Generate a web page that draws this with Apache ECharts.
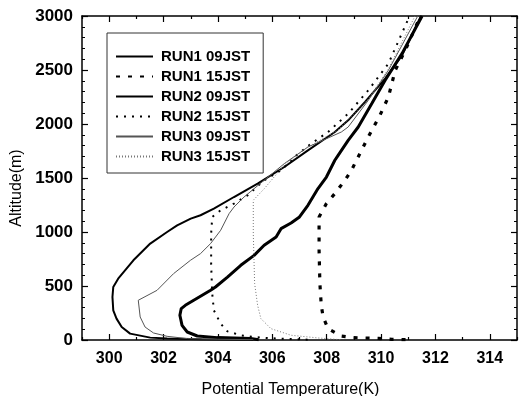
<!DOCTYPE html>
<html>
<head>
<meta charset="utf-8">
<script src="https://cdn.jsdelivr.net/npm/echarts@6/dist/echarts.min.js"></script>
<style>
  html, body { margin: 0; padding: 0; background: #fff; }
  #chart { width: 523px; height: 396px; }
</style>
</head>
<body>
<div id="chart"></div>
<script>
// [potential temperature (K), altitude (m)]
const run1Jst09 = [
  [305.5, 2], [305.2, 13], [303.98, 22], [303.24, 37], [302.87, 74], [302.68, 136],
  [302.6, 229], [302.65, 291], [302.8, 321], [303.11, 368], [303.73, 460], [303.91, 491],
  [304.35, 583], [304.84, 692], [305.33, 784], [305.7, 877], [306.14, 954], [306.32, 1031],
  [306.69, 1083], [307.0, 1139], [307.31, 1247], [307.68, 1402], [307.99, 1509], [308.3, 1664],
  [308.42, 1710], [308.79, 1849], [309.16, 1972], [309.66, 2189], [310.15, 2405], [310.77, 2652],
  [311.51, 3000]
];
const run1Jst15 = [
  [310.9, 3], [310.4, 6], [309.9, 15], [309.47, 18], [308.98, 22], [308.54, 37], [308.05, 105],
  [307.87, 213], [307.8, 321], [307.75, 522], [307.72, 831], [307.72, 1139], [307.99, 1263],
  [308.3, 1356], [308.67, 1479], [308.91, 1571], [309.22, 1726], [309.53, 1880], [309.96, 2081],
  [310.27, 2250], [310.52, 2497], [310.89, 2682], [311.45, 3000]
];
const run2Jst09 = [
  [305.3, 3], [303.4, 8], [302.13, 13], [301.51, 22], [300.77, 59], [300.46, 120], [300.27, 198],
  [300.15, 275], [300.12, 398], [300.15, 491], [300.33, 568], [300.89, 738], [301.51, 893],
  [302.13, 1000], [302.5, 1062], [303.0, 1124], [303.36, 1155], [303.85, 1216], [304.59, 1324],
  [305.46, 1448], [306.44, 1602], [307.31, 1756], [308.3, 1926], [308.79, 2034], [309.41, 2204],
  [310.15, 2420], [310.77, 2636], [311.47, 3000]
];
const run2Jst15 = [
  [307.3, 3], [306.57, 10], [305.83, 18], [305.33, 28], [304.84, 44], [304.35, 80], [304.1, 152],
  [303.85, 275], [303.79, 430], [303.75, 700], [303.75, 985], [303.79, 1139], [304.1, 1201],
  [304.59, 1263], [305.09, 1340], [305.7, 1479], [306.32, 1571], [306.81, 1694], [307.43, 1818],
  [308.05, 1926], [308.79, 2096], [309.53, 2312], [310.27, 2559], [311.05, 3000]
];
const run3Jst09 = [
  [305.3, 3], [304.0, 7], [302.87, 13], [302.13, 34], [301.63, 65], [301.32, 120], [301.14, 213],
  [301.07, 368], [301.76, 460], [302.37, 615], [302.99, 738], [303.36, 800], [303.73, 893],
  [304.1, 1016], [304.41, 1170], [304.59, 1231], [304.96, 1324], [305.7, 1479], [306.44, 1633],
  [307.31, 1787], [308.54, 1926], [308.79, 1972], [309.53, 2219], [310.27, 2497], [311.35, 3000]
];
const run3Jst15 = [
  [308.5, 3], [307.68, 19], [306.69, 44], [305.95, 105], [305.58, 198], [305.46, 321],
  [305.35, 522], [305.3, 985], [305.3, 1294], [305.7, 1400], [306.44, 1620], [307.31, 1787],
  [308.4, 1940], [309.53, 2230], [310.27, 2510], [311.25, 3000]
];

const seriesNames = ['RUN1 09JST', 'RUN1 15JST', 'RUN2 09JST', 'RUN2 15JST', 'RUN3 09JST', 'RUN3 15JST'];
const majorTicksX = [300, 302, 304, 306, 308, 310, 312, 314];
const minorTicksX = [299, 301, 303, 305, 307, 309, 311, 313, 315];

const font = '"Liberation Sans", Arial, sans-serif';
const chart = echarts.init(document.getElementById('chart'));

const baseX = {
  type: 'value', min: 299, max: 315,
  splitLine: { show: false },
  axisLine: { show: false },
  axisLabel: { show: false },
};

function tickAxis(position, values, length, withLine) {
  return Object.assign({}, baseX, {
    position,
    axisLine: { show: withLine, onZero: false, lineStyle: { color: '#000', width: 1.5 } },
    axisTick: { show: true, inside: true, length, customValues: values, lineStyle: { color: '#000', width: 1.2 } },
    axisLabel: { show: false, customValues: values },
  });
}

const xBottom = tickAxis('bottom', majorTicksX, 6, true);
xBottom.axisLabel = {
  show: true, customValues: majorTicksX, margin: 11,
  color: '#000', fontSize: 16, fontWeight: 'bold', fontFamily: font,
};
xBottom.name = 'Potential Temperature(K)';
xBottom.nameLocation = 'middle';
xBottom.nameGap = 42;
xBottom.nameTextStyle = { color: '#000', fontSize: 16, fontFamily: font, padding: [0, 18, 0, 0] };

const yTick = {
  show: true, inside: true, length: 6, lineStyle: { color: '#000', width: 1.2 },
};
const yMinor = { show: true, splitNumber: 5, length: 3, lineStyle: { color: '#000', width: 1 } };

const option = {
  animation: false,
  backgroundColor: '#fff',
  grid: { left: 82, right: 6, top: 16, bottom: 56, outerBoundsMode: 'none', containLabel: false },
  legend: {
    orient: 'vertical',
    left: 107, top: 33,
    padding: [16, 13, 9, 8],
    itemWidth: 37, itemHeight: 14, itemGap: 5,
    borderColor: '#333', borderWidth: 1, backgroundColor: '#fff',
    itemStyle: { opacity: 0 },
    textStyle: { color: '#000', fontSize: 15, fontWeight: 'bold', fontFamily: font, padding: [0, 0, 0, 3] },
    data: seriesNames,
  },
  xAxis: [
    xBottom,
    tickAxis('bottom', minorTicksX, 3, false),
    tickAxis('top', majorTicksX, 6, true),
    tickAxis('top', minorTicksX, 3, false),
  ],
  yAxis: [
    {
      type: 'value', min: 0, max: 3000, interval: 500, position: 'left',
      splitLine: { show: false },
      axisLine: { show: true, onZero: false, lineStyle: { color: '#000', width: 1.5 } },
      axisTick: yTick, minorTick: yMinor,
      axisLabel: {
        color: '#000', fontSize: 17, fontWeight: 'bold', fontFamily: font, margin: 9,
        formatter: v => String(v),
      },
      name: 'Altitude(m)', nameLocation: 'middle', nameGap: 50,
      nameTextStyle: { color: '#000', fontSize: 16, fontFamily: font, padding: [0, 20, 0, 0] },
    },
    {
      type: 'value', min: 0, max: 3000, interval: 500, position: 'right',
      splitLine: { show: false },
      axisLine: { show: true, onZero: false, lineStyle: { color: '#000', width: 1.5 } },
      axisTick: yTick, minorTick: yMinor,
      axisLabel: { show: false },
    },
  ],
  series: [
    { name: seriesNames[0], data: run1Jst09, lineStyle: { color: '#000', width: 3 } },
    { name: seriesNames[1], data: run1Jst15, lineStyle: { color: '#000', width: 3.2, type: [4, 8] } },
    { name: seriesNames[2], data: run2Jst09, lineStyle: { color: '#000', width: 2 } },
    { name: seriesNames[3], data: run2Jst15, lineStyle: { color: '#000', width: 2, type: [2, 6] } },
    { name: seriesNames[4], data: run3Jst09, lineStyle: { color: '#555', width: 1 } },
    { name: seriesNames[5], data: run3Jst15, lineStyle: { color: '#777', width: 1, type: [1, 2] } },
  ].map(s => Object.assign({
    type: 'line', symbol: 'none', smooth: false, xAxisIndex: 0, yAxisIndex: 0,
    itemStyle: { color: s.lineStyle.color },
  }, s)),
};

chart.setOption(option);
</script>
</body>
</html>
